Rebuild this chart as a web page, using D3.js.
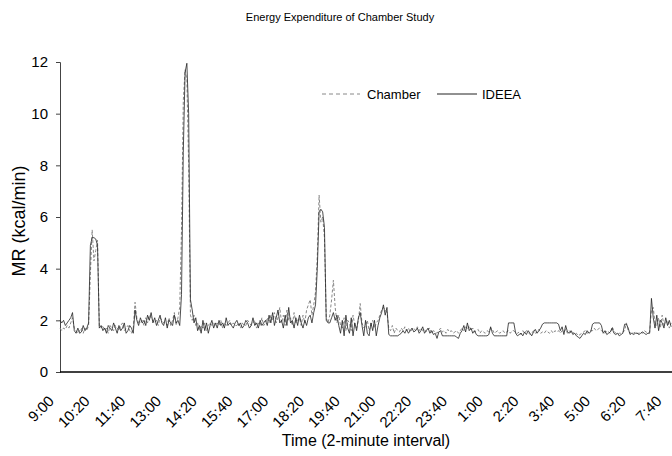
<!DOCTYPE html>
<html>
<head>
<meta charset="utf-8">
<script src="https://cdn.jsdelivr.net/npm/d3@7"></script>
<style>
  body { margin: 0; background: #fff; }
  text { font-family: "Liberation Sans", Arial, sans-serif; fill: #000; }
</style>
</head>
<body>
<div id="chart"></div>
<script>
// MR values, one sample every 4 minutes (every 2nd 2-minute interval), from 9:00
var chamber = [
  1.7,1.6,1.7,1.65,1.8,1.7,1.9,2.1,
  1.7,1.6,1.5,1.6,1.7,1.5,1.7,1.6,1.8,
  3.8,5.5,4.3,4.7,5.1,1.8,
  1.7,1.8,1.6,1.7,1.5,1.8,1.7,1.6,1.8,1.7,1.6,1.8,1.9,1.6,1.7,1.8,1.6,1.5,1.7,
  2.7,
  2.1,1.9,1.9,2.0,1.8,2.1,1.9,2.2,2.1,2.0,1.9,2.0,1.8,2.1,2.0,1.9,1.9,1.8,2.1,1.8,2.0,2.3,1.8,2.1,2.5,
  5.5,10.5,11.7,11.3,8.0,2.2,
  2.0,2.2,1.8,1.9,1.6,1.8,1.7,1.9,1.6,1.8,1.9,1.8,1.9,
  1.8,1.9,1.8,2.0,1.7,1.9,1.8,1.9,2.0,1.8,1.9,1.8,1.8,1.9,1.7,1.9,1.8,1.8,2.0,1.9,1.8,1.9,2.0,1.7,1.9,1.8,2.1,1.8,
  1.9,2.1,1.9,2.2,2.0,2.3,1.9,2.1,2.5,1.9,2.2,1.8,2.4,2.0,2.1,1.8,2.3,1.9,2.0,2.1,1.8,2.2,1.9,2.4,2.6,
  2.8,2.2,2.6,3.1,
  4.5,6.85,5.8,6.0,5.2,
  2.1,1.9,2.2,2.8,3.55,2.5,
  1.9,2.2,1.8,1.7,2.1,1.6,2.0,1.9,1.6,2.2,1.8,1.7,2.0,
  2.65,
  1.9,1.7,1.8,2.0,1.6,1.8,2.0,1.7,1.9,2.0,2.2,2.4,
  2.5,2.4,2.3,
  1.7,
  1.6,1.8,1.5,1.7,1.6,1.55,1.7,1.6,1.75,1.6,
  1.7,1.55,1.65,1.7,1.6,1.75,1.6,1.7,1.6,1.65,
  1.55,1.65,1.7,1.5,1.6,1.55,1.5,1.6,1.7,1.55,
  1.6,1.5,1.65,1.55,1.6,1.5,1.55,1.6,1.5,1.6,
  1.7,1.6,1.75,1.65,1.8,1.6,1.7,1.55,1.6,1.65,
  1.5,1.6,1.55,1.5,1.6,1.55,1.7,1.65,1.5,1.55,
  1.6,1.5,1.55,1.6,1.5,1.55,1.6,1.5,1.6,
  1.6,1.5,
  1.5,1.55,1.45,1.6,1.5,1.6,1.55,1.45,1.5,1.6,1.5,1.55,1.65,1.5,
  1.55,1.5,1.6,1.55,1.5,1.6,1.5,1.6,1.55,1.6,
  1.5,1.6,1.55,1.65,1.5,1.6,1.5,1.55,1.45,1.5,1.4,1.45,1.5,1.55,1.6,1.5,1.55,1.6,
  1.6,1.7,1.6,1.65,1.7,1.6,
  1.55,1.5,1.6,1.55,1.5,1.75,1.6,1.5,1.45,1.5,1.5,1.55,
  1.6,1.9,1.6,
  1.5,1.55,1.5,1.55,1.5,1.5,1.55,1.5,1.6,1.55,1.5,1.55,
  2.4,2.5,1.9,1.8,2.1,1.7,2.2,1.8,1.9,2.0,1.7,1.9
];

var ideea = [
  2.0,1.9,2.0,1.8,1.9,2.0,2.1,2.3,
  1.6,1.5,1.7,1.5,1.55,1.8,1.6,1.7,1.9,
  4.9,5.2,5.2,5.15,4.9,1.7,
  1.8,1.6,1.7,1.5,1.8,1.7,1.6,1.9,1.7,1.5,1.8,1.6,1.7,1.9,1.5,1.6,1.8,1.7,1.5,
  2.4,
  2.0,1.8,2.1,1.9,2.0,1.8,2.2,2.0,2.3,1.9,2.1,1.8,2.0,2.2,1.9,1.8,2.1,1.7,2.0,1.9,1.8,2.2,1.9,2.0,1.8,
  3.0,8.5,11.6,11.95,10.0,2.8,
  2.4,1.9,2.1,1.6,1.8,1.5,2.0,1.6,1.9,1.5,1.8,2.0,1.7,
  1.9,1.7,2.0,1.8,1.9,1.7,2.1,1.8,1.9,1.8,1.7,1.9,2.0,1.8,1.9,1.7,1.8,2.0,1.9,1.7,1.8,2.1,1.8,1.9,1.7,2.0,1.8,1.9,
  2.0,1.8,2.2,1.9,2.3,1.8,2.1,2.4,1.9,2.0,1.7,2.2,1.8,2.5,1.9,2.0,1.7,2.1,1.8,2.2,1.9,1.7,2.0,1.8,2.1,
  2.2,1.9,2.3,2.6,
  4.0,6.2,6.3,6.2,5.6,
  2.0,1.9,1.9,2.1,2.3,2.0,
  2.2,1.8,1.5,2.0,1.4,2.2,1.7,1.5,2.1,1.4,1.9,1.6,2.1,
  2.3,
  1.8,1.4,2.0,1.5,1.4,1.9,1.6,2.0,1.4,1.8,2.1,2.3,
  2.6,2.2,2.5,
  1.45,
  1.4,1.4,1.4,1.4,1.4,1.45,1.5,1.6,1.5,1.65,
  1.5,1.6,1.7,1.55,1.6,1.7,1.5,1.6,1.75,1.5,
  1.6,1.7,1.5,1.6,1.45,1.5,1.3,1.55,1.6,1.4,
  1.4,1.4,1.4,1.4,1.4,1.4,1.4,1.35,1.3,1.5,
  1.6,1.8,1.55,1.9,1.6,1.7,1.5,1.6,1.45,1.4,
  1.4,1.4,1.4,1.4,1.4,1.45,1.75,1.5,1.4,1.4,
  1.4,1.4,1.4,1.4,1.4,1.4,1.9,1.9,1.9,
  1.9,1.5,
  1.4,1.45,1.5,1.4,1.55,1.45,1.6,1.5,1.4,1.55,1.65,1.5,1.6,1.7,
  1.85,1.9,1.9,1.9,1.9,1.9,1.9,1.9,1.9,1.85,
  1.6,1.75,1.45,1.8,1.55,1.5,1.6,1.45,1.5,1.4,1.35,1.3,1.4,1.5,1.45,1.6,1.5,1.55,
  1.85,1.9,1.9,1.9,1.9,1.8,
  1.5,1.6,1.45,1.5,1.55,1.7,1.5,1.45,1.5,1.4,1.45,1.5,
  1.85,1.85,1.7,
  1.45,1.5,1.45,1.5,1.5,1.45,1.5,1.55,1.5,1.45,1.5,1.5,
  2.85,2.1,1.7,2.2,1.6,2.0,1.9,1.7,2.1,1.8,2.0,1.75
];

var timeLabels = ["9:00", "10:20", "11:40", "13:00", "14:20", "15:40", "17:00", "18:20", "19:40",
                  "21:00", "22:20", "23:40", "1:00", "2:20", "3:40", "5:00", "6:20", "7:40"];
var yTicks = [0, 2, 4, 6, 8, 10, 12];
var seriesNames = ["Chamber", "IDEEA"];

var width = 672, height = 456;
var margin = {top: 62, right: 0, bottom: 84, left: 60};

var svg = d3.select("#chart").append("svg")
  .attr("width", width)
  .attr("height", height);

// x in 2-minute intervals, y in kcal/min
var x = d3.scaleLinear().domain([0, 685]).range([margin.left, width - margin.right]);
var y = d3.scaleLinear().domain([0, 12]).range([height - margin.bottom, margin.top]);

// title
svg.append("text")
  .attr("x", 340).attr("y", 21)
  .attr("text-anchor", "middle")
  .style("font-size", "11px")
  .text("Energy Expenditure of Chamber Study");

// Y axis
var yAxis = svg.append("g")
  .attr("transform", "translate(" + margin.left + ",0)")
  .call(d3.axisLeft(y).tickValues(yTicks).tickSize(4).tickPadding(8).tickFormat(d3.format("d")));
yAxis.select(".domain").attr("stroke", "#444");
yAxis.selectAll(".tick line").attr("stroke", "#444");
yAxis.selectAll(".tick text")
  .style("font-size", "15px")
  .style("font-family", "Liberation Sans, Arial, sans-serif");

svg.append("text")
  .attr("transform", "translate(25,221) rotate(-90)")
  .attr("text-anchor", "middle")
  .style("font-size", "18px")
  .text("MR (kcal/min)");

// X axis line and rotated labels
svg.append("line")
  .attr("x1", x(0)).attr("x2", width)
  .attr("y1", y(0)).attr("y2", y(0))
  .attr("stroke", "#000")
  .attr("stroke-width", 1.5);

svg.selectAll(".xlab")
  .data(timeLabels)
  .enter().append("text")
  .attr("class", "xlab")
  .attr("text-anchor", "end")
  .attr("transform", function(d, i) {
    return "translate(" + (x(i * 40) - 5) + "," + (y(0) + 30) + ") rotate(-45)";
  })
  .style("font-size", "15px")
  .text(function(d) { return d; });

svg.append("text")
  .attr("x", (x(0) + width) / 2).attr("y", 446)
  .attr("text-anchor", "middle")
  .style("font-size", "16px")
  .text("Time (2-minute interval)");

// series
var line = d3.line()
  .x(function(d, i) { return x(i * 2); })
  .y(function(d) { return y(d); });

svg.append("path")
  .datum(chamber)
  .attr("fill", "none")
  .attr("stroke", "#888")
  .attr("stroke-width", 1)
  .attr("stroke-dasharray", "3,2")
  .attr("d", line);

svg.append("path")
  .datum(ideea)
  .attr("fill", "none")
  .attr("stroke", "#222")
  .attr("stroke-width", 0.8)
  .attr("d", line);

// legend
var legend = svg.append("g");
legend.append("line")
  .attr("x1", 322).attr("x2", 360).attr("y1", 94).attr("y2", 94)
  .attr("stroke", "#888").attr("stroke-dasharray", "4,3");
legend.append("text")
  .attr("x", 367).attr("y", 99)
  .style("font-size", "13px")
  .text(seriesNames[0]);
legend.append("line")
  .attr("x1", 437).attr("x2", 477).attr("y1", 94).attr("y2", 94)
  .attr("stroke", "#222");
legend.append("text")
  .attr("x", 482).attr("y", 99)
  .style("font-size", "13px")
  .text(seriesNames[1]);
</script>
</body>
</html>
